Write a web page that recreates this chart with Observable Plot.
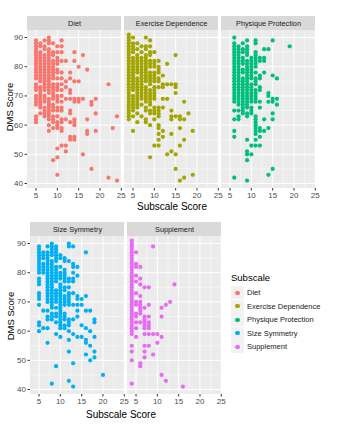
<!DOCTYPE html>
<html>
<head>
<meta charset="utf-8">
<script src="https://cdn.jsdelivr.net/npm/d3@7"></script>
<script src="https://cdn.jsdelivr.net/npm/@observablehq/plot@0.6"></script>
<style>
  html, body { margin: 0; padding: 0; background: #fff; }
  #wrap { position: relative; width: 345px; height: 426px; font-family: "Liberation Sans", Arial, sans-serif; overflow: hidden; }
  .abs { position: absolute; }
  .ytitle { position: absolute; transform: translate(-50%, -50%) rotate(-90deg); font-size: 9.5px; color: #000; white-space: nowrap; }
  .xtitle { position: absolute; transform: translate(-50%, -50%); font-size: 10px; color: #000; white-space: nowrap; }
  .legend { position: absolute; left: 231px; top: 272px; font-size: 7.5px; color: #1A1A1A; }
  .legend .ttl { font-size: 9.5px; color: #000; margin-bottom: 3px; }
  .legend .row { display: flex; align-items: center; height: 13.5px; }
  .legend .key { width: 13px; height: 13px; background: #F2F2F2; position: relative; margin-right: 3px; }
  .legend .key i { position: absolute; left: 4.3px; top: 4.3px; width: 4.4px; height: 4.4px; border-radius: 50%; }
</style>
</head>
<body>
<div id="wrap"></div>
<script>
// ---- Data (x = subscale score, list of DMS scores at that x) ----
const subscales = ["Diet", "Exercise Dependence", "Physique Protection", "Size Symmetry", "Supplement"];
const colors = ["#F8766D", "#A3A500", "#00BF7D", "#00B0F6", "#E76BF3"];

const diet = [
  [5, [89,88,87,86,85,84,83,82,81,80,79,78,77,76,74,73,72,70,69,68,67,63,62,61]],
  [6, [88,87,85,84,83,82,81,80,79,78,77,76,75,73,72,71,70,69,68,67,66,64]],
  [7, [89,87,86,84,83,82,81,80,79,78,77,76,75,74,73,72,70,69,68,66,65,64,63]],
  [8, [90,89,88,86,85,84,83,82,81,80,79,78,77,76,75,74,73,72,71,69,68,67,66,65,64,63,62,60,58]],
  [9, [88,85,84,82,81,80,79,78,77,76,74,73,72,71,70,69,67,66,65,63,62,61,59,48]],
  [10, [87,85,83,82,81,79,78,76,74,73,72,70,69,68,66,65,63,61,60,59,52,49,43]],
  [11, [89,87,85,82,78,76,74,72,70,68,66,65,62,61,59,58,53]],
  [12, [82,75,73,69,62,53,51]],
  [13, [78,76,72,71,69,65,64,61,56,55]],
  [14, [85,82,75,69,68,62,61,60,56,55]],
  [15, [80,75,69,68]],
  [16, [84,69,50]],
  [17, [79,62,58,57]],
  [18, [68,67,45]],
  [19, [69,64,58]],
  [22, [74,42]],
  [23, [59]],
  [24, [63,41]]
];

const exerciseDependence = [
  [4, [91,90,89,88,87,86,85,84,83,82,81,80,79,78,77,76,75,74,73,72,71,70,69,68,67,66,65,64,63,62]],
  [5, [90,88,87,86,85,83,82,81,80,79,78,77,76,75,74,73,72,70,69,68,67,66,65,63,58]],
  [6, [88,86,84,83,82,81,80,79,78,76,75,74,73,72,71,70,69,68,67,66,64,61]],
  [7, [87,85,83,82,81,80,79,78,77,76,75,74,73,72,71,70,69,67,63]],
  [8, [90,87,86,84,83,82,81,80,79,78,77,76,75,73,72,71,70,69,68,66,65,62,61]],
  [9, [89,87,85,84,82,81,80,78,77,76,75,74,72,71,70,69,68,67,65,64,60,49]],
  [10, [85,82,81,80,78,77,76,75,73,72,71,70,69,66,65,64,62,53]],
  [11, [82,80,79,78,76,75,73,66,65,64,63,60,59,57,55,53]],
  [12, [77,74,73,69,66,58,56]],
  [13, [81,74,69,50]],
  [14, [74,65,63,62,57,51]],
  [15, [84,74,73,71,63,50,45]],
  [16, [63,62,59,53,41]],
  [17, [68,62,55,42]],
  [18, [64]],
  [19, [58,43]]
];

const physiqueProtection = [
  [6, [90,88,87,86,85,84,83,82,81,80,79,78,77,76,75,74,73,72,71,70,69,68,65,62,58,56,42]],
  [7, [87,86,85,84,83,82,81,80,79,78,77,76,75,74,73,72,71,70,69,68,67,65,63,62]],
  [8, [88,86,85,83,82,81,79,78,76,75,74,73,72,71,70,69,68,67,66,65,64]],
  [9, [89,87,86,85,84,82,81,80,79,78,77,76,75,74,73,72,71,70,69,68,67,66,64,63,55,51,50,48,41]],
  [10, [83,82,81,80,79,78,77,76,74,73,72,71,70,69,68,66,65,64,53,50]],
  [11, [89,88,85,84,83,82,81,80,78,76,75,74,72,71,70,69,68,63,62,61,60,59,58,57,55,53]],
  [12, [83,82,77,76,73,72,68,66,59,58,56,53]],
  [13, [86,83,82,78,62,58]],
  [14, [86,71,70,68,59,43]],
  [15, [89,77,69,68,64,62,45]],
  [16, [76,69,67]],
  [19, [87]]
];

const sizeSymmetry = [
  [5, [89,88,87,86,85,84,83,82,81,80,78,77,76,73,72,71,69,63,62,60]],
  [6, [87,86,85,83,82,81,80,67,61]],
  [7, [89,87,86,85,84,83,82,81,80,79,78,77,76,75,74,73,72,71,70,67,65,64,61,56]],
  [8, [90,89,88,87,86,84,83,82,81,80,79,78,77,76,75,74,73,72,71,70,69,68,66,65,64,42]],
  [9, [89,88,87,86,85,84,82,81,80,79,78,77,74,73,72,71,70,68,66,65,63,59,48]],
  [10, [86,85,82,80,79,78,76,75,74,73,72,71,70,69,68,67,66,65,64,63,62,61,58]],
  [11, [85,84,81,80,79,78,77,75,74,72,71,70,69,66,65,64,62,61]],
  [12, [90,89,84,78,77,75,73,72,71,70,69,64,63,62,60,57,53,43]],
  [13, [89,83,82,80,78,77,73,69,64,59,49,41]],
  [14, [82,79,72,71,69,67,65,58]],
  [15, [71,69,62,58]],
  [16, [87,72,67,61,57,56,52]],
  [17, [67,60,55,50]],
  [18, [64,63,58,53,51]],
  [20, [45]]
];

const supplement = [
  [4, [91,90,89,88,87,86,85,84,83,82,81,80,79,78,77,76,75,74,73,72,71,70,69,68,67,66,65,64,63,62,61,60,59,55,53,50,42]],
  [5, [87,83,82,79,77,73,70,69,66,65,63,61,58]],
  [6, [82,78,76,72,70,69,68,67,66,63,49,48]],
  [7, [75,68,65,64,63,62,61,59,55,53,51]],
  [8, [75,69,65,63,62,61,59,55]],
  [9, [89,59,52]],
  [10, [59,56]],
  [11, [68,65,58,45]],
  [12, [69,43]],
  [13, [70]],
  [14, [76]],
  [16, [41]]
];

const xTicks = [5, 10, 15, 20, 25];
const xMinor = [7.5, 12.5, 17.5, 22.5];
const yTicks = [40, 50, 60, 70, 80, 90];
const yMinor = [45, 55, 65, 75, 85];

// ---- build table ----
function expand(name, cols) {
  return cols.flatMap(([x, ys]) => ys.map(y => ({subscale: name, x, y})));
}
const rowsTop = [
  ...expand("Diet", diet),
  ...expand("Exercise Dependence", exerciseDependence),
  ...expand("Physique Protection", physiqueProtection)
];
const rowsBottom = [
  ...expand("Size Symmetry", sizeSymmetry),
  ...expand("Supplement", supplement)
];

const xLo = 3, xHi = 25.05;
const yLo = 38.3, yHi = 92.4, yStrip = 97.2;

function makeRow(data, names, width, marginLeft) {
  const font = "Liberation Sans, Arial, sans-serif";
  return Plot.plot({
    width,
    height: 212,
    marginLeft,
    marginRight: width - marginLeft - (names.length * 94 + (names.length - 1) * 3),
    marginTop: 16,
    marginBottom: 24,
    style: {fontFamily: font, background: "transparent", overflow: "visible"},
    fx: {domain: names, paddingInner: 3 / 97, paddingOuter: 0, axis: null, label: null},
    x: {domain: [xLo, xHi], label: null},
    y: {domain: [yLo, yStrip], label: null},
    color: {domain: subscales, range: colors},
    marks: [
      Plot.rect([0], {x1: () => xLo, x2: () => xHi, y1: () => yLo, y2: () => yHi, fill: "#EBEBEB"}),
      Plot.rect([0], {x1: () => xLo, x2: () => xHi, y1: () => yHi, y2: () => yStrip, fill: "#D9D9D9"}),
      Plot.text(names, {fx: d => d, x: () => (xLo + xHi) / 2, y: () => (yHi + yStrip) / 2, text: d => d, fontSize: 7.3, fill: "#1A1A1A", dy: 0.5}),
      Plot.ruleY(yMinor, {y: d => d, x1: () => xLo, x2: () => xHi, stroke: "white", strokeWidth: 0.45}),
      Plot.ruleX(xMinor, {x: d => d, y1: () => yLo, y2: () => yHi, stroke: "white", strokeWidth: 0.45}),
      Plot.ruleY(yTicks, {y: d => d, x1: () => xLo, x2: () => xHi, stroke: "white", strokeWidth: 1}),
      Plot.ruleX(xTicks, {x: d => d, y1: () => yLo, y2: () => yHi, stroke: "white", strokeWidth: 1}),
      Plot.axisX({ticks: xTicks, tickSize: 2.5, tickPadding: 1, fontSize: 8, color: "#4D4D4D", stroke: "#333", label: null}),
      Plot.axisY({ticks: yTicks, tickSize: 2.5, tickPadding: 2, fontSize: 8, color: "#4D4D4D", stroke: "#333", label: null}),
      Plot.dot(data, {fx: "subscale", x: "x", y: "y", fill: "subscale", r: 2.1, stroke: null})
    ]
  });
}

const wrap = document.getElementById("wrap");

const topRow = makeRow(rowsTop, ["Diet", "Exercise Dependence", "Physique Protection"], 345, 27);
topRow.classList.add("abs");
topRow.style.left = "0px"; topRow.style.top = "0px";
wrap.appendChild(topRow);

const bottomRow = makeRow(rowsBottom, ["Size Symmetry", "Supplement"], 240, 30);
bottomRow.classList.add("abs");
bottomRow.style.left = "0px"; bottomRow.style.top = "206px";
wrap.appendChild(bottomRow);

function addText(cls, txt, x, y) {
  const d = document.createElement("div");
  d.className = cls; d.textContent = txt;
  d.style.left = x + "px"; d.style.top = y + "px";
  wrap.appendChild(d);
}
addText("ytitle", "DMS Score", 9, 107);
addText("xtitle", "Subscale Score", 172, 206);
addText("ytitle", "DMS Score", 10, 316);
addText("xtitle", "Subscale Score", 121, 414);

const lg = document.createElement("div");
lg.className = "legend";
const lt = document.createElement("div"); lt.className = "ttl"; lt.textContent = "Subscale"; lg.appendChild(lt);
subscales.forEach((s, i) => {
  const r = document.createElement("div"); r.className = "row";
  const k = document.createElement("div"); k.className = "key";
  const dot = document.createElement("i"); dot.style.background = colors[i]; k.appendChild(dot);
  const l = document.createElement("span"); l.textContent = s;
  r.appendChild(k); r.appendChild(l); lg.appendChild(r);
});
wrap.appendChild(lg);
</script>
</body>
</html>
